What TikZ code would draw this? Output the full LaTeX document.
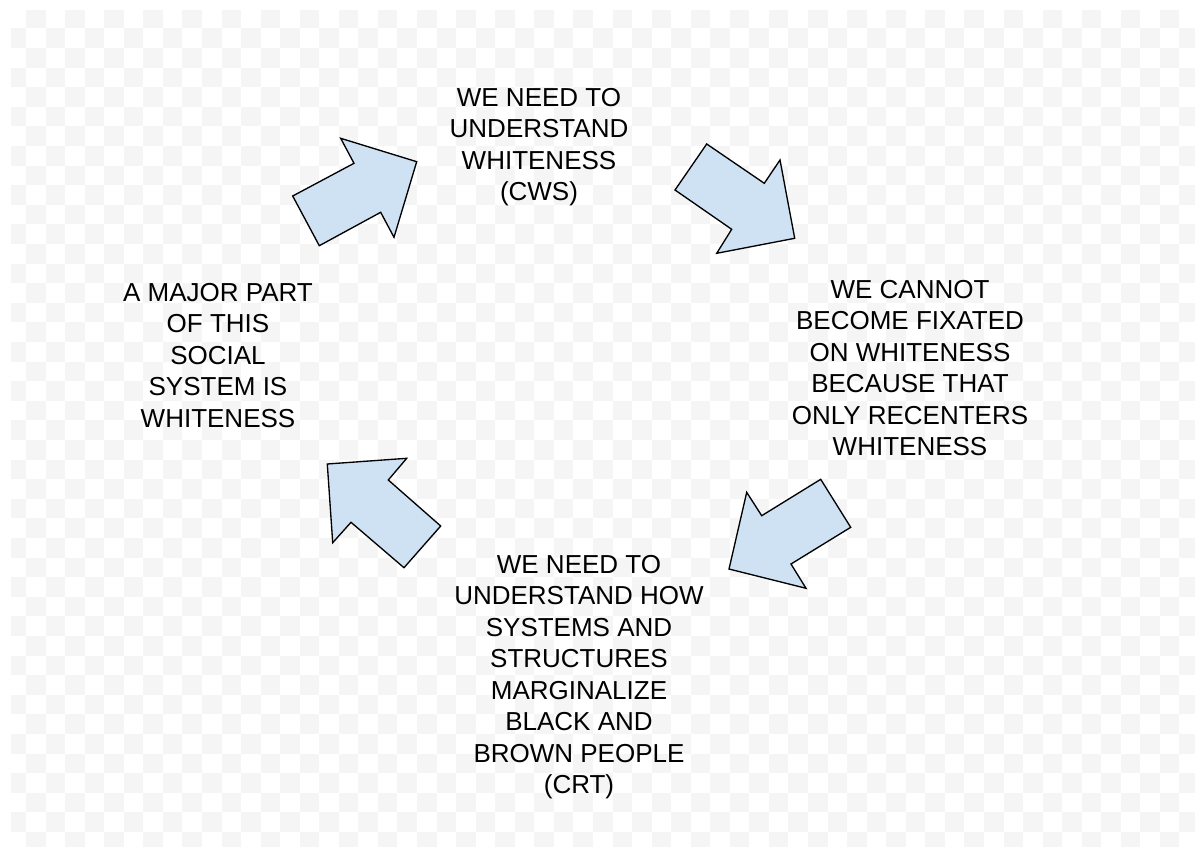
\documentclass[tikz,border=0pt]{standalone}
\usepackage{tikz}
\usepackage{xcolor}
\usepackage{fontspec}
\setmainfont{Liberation Sans}

\definecolor{arrowblue}{RGB}{207,226,243}
\definecolor{checkgray}{RGB}{245,245,245}

\begin{document}
\begin{tikzpicture}[x=0.75pt,y=0.75pt,yscale=-1,xscale=1,
  blockarrow/.style={draw=black, fill=arrowblue, line width=1pt, line join=miter},
  steptext/.style={inner sep=0.75pt, align=center, font=\fontsize{19.5}{23.6}\selectfont},
  checker/.style={fill=checkgray}]
  \useasboundingbox (0,0) rectangle (1195,846);
  \fill[white] (0,0) rectangle (1195,846);

  %Background: checkerboard
  \begin{scope}
    \clip (11,10) rectangle (1195,846);
    \foreach \i in {0,...,60}{
      \foreach \j in {0,...,42}{
        \ifodd\numexpr\i+\j\relax
          \fill[checker] (6.45+19.55*\i,8.7+19.6*\j) rectangle ++(19.55,19.6);
        \fi
      }
    }
  \end{scope}

  %Shape: Polygon, arrow up-right
  \draw [blockarrow] (292.7,196) -- (354,163.3) -- (340.7,138.3) -- (416.7,161.7) -- (394,237.3) -- (380.7,212.3) -- (319.3,245.7) -- cycle ;
  %Shape: Polygon, arrow down-right
  \draw [blockarrow] (675,190) -- (706.7,144) -- (764.3,183.3) -- (780,160) -- (794.7,238.3) -- (716.7,253.3) -- (731.7,229.3) -- cycle ;
  %Shape: Polygon, arrow down-left
  \draw [blockarrow] (820.7,479.3) -- (850.7,527.3) -- (791,564) -- (806,588.3) -- (729,569) -- (746.7,492.3) -- (761.7,515.7) -- cycle ;
  %Shape: Polygon, arrow up-left
  \draw [blockarrow] (327.3,464) -- (406.7,458.3) -- (388.3,480) -- (440.7,526) -- (404,567.7) -- (351,522.3) -- (332.7,542.7) -- cycle ;

  % Text Node
  \draw (539,147) node [steptext] (cws) {WE NEED TO\\UNDERSTAND\\WHITENESS\\(CWS)};
  % Text Node
  \draw (910,368) node [steptext] (fixated) {WE CANNOT\\BECOME FIXATED\\ON WHITENESS\\BECAUSE THAT\\ONLY RECENTERS\\WHITENESS};
  % Text Node
  \draw (579,677) node [steptext] (crt) {WE NEED TO\\UNDERSTAND HOW\\SYSTEMS AND\\STRUCTURES\\MARGINALIZE\\BLACK AND\\BROWN PEOPLE\\(CRT)};
  % Text Node
  \draw (218,355.5) node [steptext] (system) {A MAJOR PART\\OF THIS\\SOCIAL\\SYSTEM IS\\WHITENESS};

\end{tikzpicture}
\end{document}
